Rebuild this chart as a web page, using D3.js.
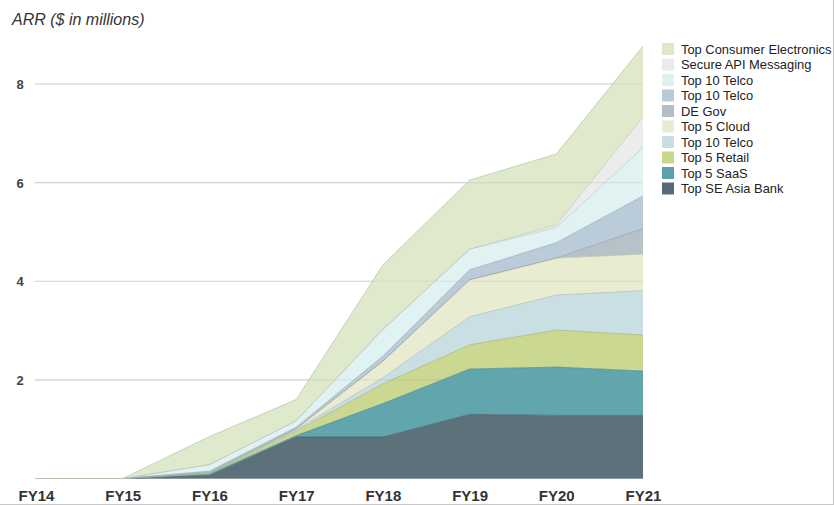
<!DOCTYPE html>
<html>
<head>
<meta charset="utf-8">
<script src="https://cdn.jsdelivr.net/npm/d3@7"></script>
<style>
  html, body { margin: 0; padding: 0; background: #fff; }
  svg { display: block; }
</style>
</head>
<body>
<svg id="chart" width="834" height="505"></svg>
<script>
// Fiscal years on the x axis
const years = ["FY14", "FY15", "FY16", "FY17", "FY18", "FY19", "FY20", "FY21"];

// ARR per customer, $ millions (stacked bottom to top)
const seAsiaBank       = [0, 0, 0.06, 0.84, 0.84, 1.30, 1.28, 1.28];
const saas5            = [0, 0, 0.03, 0.03, 0.68, 0.92, 0.98, 0.90];
const retail5          = [0, 0, 0.01, 0.09, 0.40, 0.49, 0.75, 0.73];
const telcoA           = [0, 0, 0.01, 0.03, 0.12, 0.57, 0.71, 0.90];
const cloud5           = [0, 0, 0.01, 0.02, 0.34, 0.75, 0.75, 0.74];
const deGov            = [0, 0, 0, 0, 0, 0, 0, 0.52];
const telcoB           = [0, 0, 0.03, 0.03, 0.10, 0.20, 0.31, 0.66];
const telcoC           = [0, 0, 0.13, 0.13, 0.54, 0.42, 0.31, 0.98];
const secureApi        = [0, 0, 0, 0, 0, 0, 0.05, 0.62];
const consumerElec     = [0, 0, 0.57, 0.43, 1.31, 1.40, 1.44, 1.44];

// Series names in stacking order (bottom first)
const seriesNames = ["Top SE Asia Bank", "Top 5 SaaS", "Top 5 Retail", "Top 10 Telco",
  "Top 5 Cloud", "DE Gov", "Top 10 Telco", "Top 10 Telco", "Secure API Messaging",
  "Top Consumer Electronics"];
const seriesValues = [seAsiaBank, saas5, retail5, telcoA, cloud5, deGov, telcoB, telcoC,
  secureApi, consumerElec];
const seriesColors = ["#566b76", "#5ba1aa", "#c8d68e", "#c8dee3", "#e8ebcf", "#b3bfc5",
  "#b7cad7", "#dff1f0", "#ebebeb", "#dde9c9"];

const yTicks = [2, 4, 6, 8];

const svg = d3.select("#chart");

const x = d3.scalePoint().domain(years).range([36, 643]);
const y = d3.scaleLinear().domain([0, 9]).range([478.5, 34.7]);

// Build the row table for d3.stack
const keys = seriesNames.map((_, i) => "s" + i);
const rows = years.map((yr, j) => {
  const r = { year: yr };
  keys.forEach((k, i) => { r[k] = seriesValues[i][j]; });
  return r;
});
const stacked = d3.stack().keys(keys)(rows);

// Gridlines and y labels
const yAxis = d3.axisLeft(y).tickValues(yTicks).tickSize(0).tickPadding(0).tickFormat(d3.format("d"));
const gy = svg.append("g").attr("transform", "translate(20,0)").call(yAxis);
gy.select(".domain").remove();
gy.selectAll("text")
  .attr("x", 0).attr("text-anchor", "middle").attr("dy", "0.35em")
  .attr("fill", "#444").style("font-family", "'Liberation Sans', Arial, sans-serif")
  .style("font-size", "13px").style("font-weight", "bold");

svg.append("g").selectAll("line").data([0].concat(yTicks)).join("line")
  .attr("x1", 35).attr("x2", 643)
  .attr("y1", d => y(d)).attr("y2", d => y(d))
  .attr("stroke", d => d === 0 ? "#c8c8c8" : "#dedede").attr("stroke-width", 1.2);

// Stacked areas
const area = d3.area()
  .x((d, i) => x(years[i]))
  .y0(d => y(d[0]))
  .y1(d => y(d[1]));
const topLine = d3.line()
  .x((d, i) => x(years[i]))
  .y(d => y(d[1]));

const layers = svg.append("g");
stacked.forEach((s, i) => {
  layers.append("path")
    .attr("d", area(s))
    .attr("fill", seriesColors[i])
    .attr("fill-opacity", 0.96);
});
stacked.forEach((s, i) => {
  layers.append("path")
    .attr("d", topLine(s))
    .attr("fill", "none")
    .attr("stroke", d3.color(seriesColors[i]).darker(0.5))
    .attr("stroke-opacity", 0.7)
    .attr("stroke-width", 1);
});

// Gridlines show faintly through the pale layers
svg.append("g").selectAll("line").data(yTicks).join("line")
  .attr("x1", 35).attr("x2", 643)
  .attr("y1", d => y(d)).attr("y2", d => y(d))
  .attr("stroke", "#9a9a9a").attr("stroke-opacity", 0.18).attr("stroke-width", 1.2);

// X axis labels
const xAxis = d3.axisBottom(x).tickSize(0).tickPadding(0);
const gx = svg.append("g").attr("transform", "translate(0,496)").call(xAxis);
gx.select(".domain").remove();
gx.selectAll("text")
  .attr("y", 0).attr("dy", "0.35em")
  .attr("fill", "#333").style("font-family", "'Liberation Sans Narrow', 'Liberation Sans', Arial, sans-serif")
  .style("font-size", "15px").style("font-weight", "bold");

// Title
svg.append("text")
  .attr("x", 12).attr("y", 25)
  .attr("fill", "#333")
  .style("font-family", "'Liberation Sans', Arial, sans-serif")
  .style("font-size", "16px").style("font-style", "italic")
  .text("ARR ($ in millions)");

// Legend, top entry is the top layer
const legendOrder = d3.range(seriesNames.length).reverse();
const legend = svg.append("g").attr("transform", "translate(662,43)");
const item = legend.selectAll("g").data(legendOrder).join("g")
  .attr("transform", (d, i) => `translate(0,${i * 15.5})`);
item.append("rect")
  .attr("width", 12).attr("height", 12)
  .attr("fill", d => seriesColors[d]);
item.append("text")
  .attr("x", 19).attr("y", 6).attr("dy", "0.35em")
  .attr("fill", "#222")
  .style("font-family", "'Liberation Sans', Arial, sans-serif")
  .style("font-size", "12.9px")
  .text(d => seriesNames[d]);

// Thin frame on the right and bottom edges
svg.append("line").attr("x1", 833.5).attr("x2", 833.5).attr("y1", 0).attr("y2", 505)
  .attr("stroke", "#c8c8c8");
svg.append("line").attr("x1", 0).attr("x2", 834).attr("y1", 504.5).attr("y2", 504.5)
  .attr("stroke", "#c8c8c8");
</script>
</body>
</html>
